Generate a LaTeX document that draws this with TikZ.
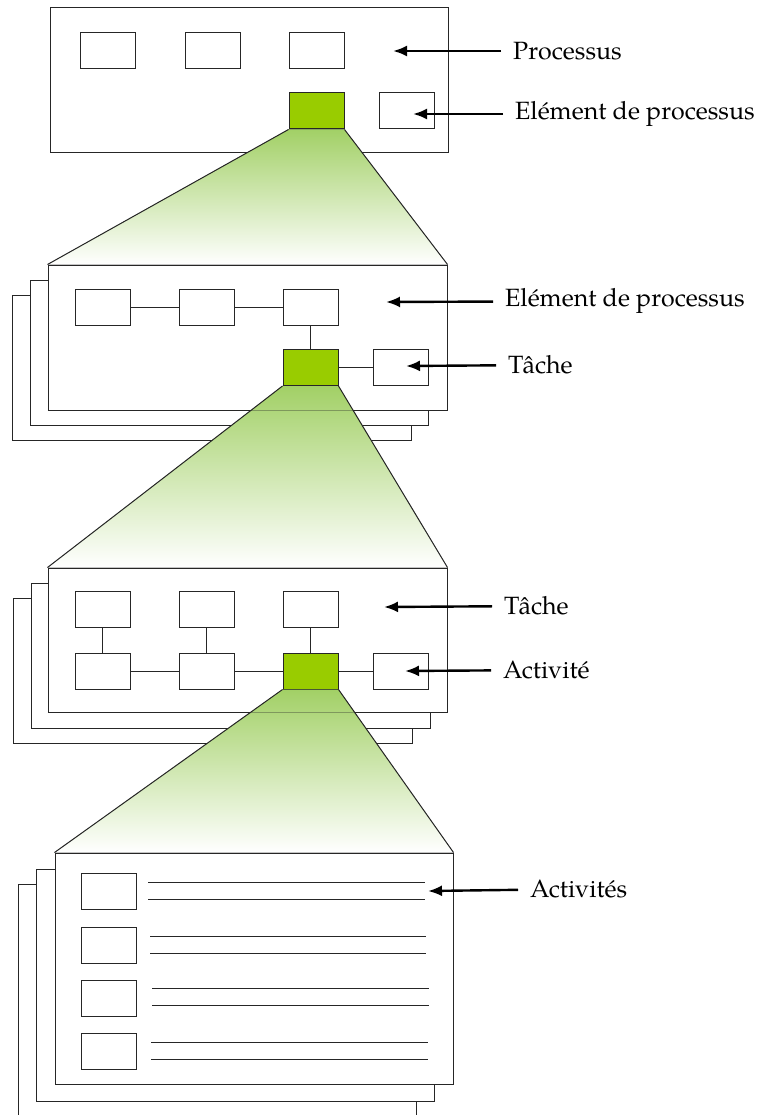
\documentclass[tikz,border=0pt]{standalone}
\usepackage{fontspec}
\setmainfont{TeX Gyre Pagella}
\usetikzlibrary{arrows.meta}
\definecolor{leafgreen}{HTML}{99CC00}
\definecolor{fantop}{RGB}{162,208,102}
\definecolor{fanmid}{RGB}{218,236,196}
\tikzset{sheet/.style={draw=black!85, line width=1pt, fill=white, inner sep=0pt}}

\begin{document}
\begin{tikzpicture}[x=1pt, y=-1pt]
\tikzstyle{box} = [rectangle, draw=black!85, line width=1pt, fill=white, minimum width=55pt, minimum height=36pt, inner sep=0pt]
\tikzstyle{hotbox} = [box, fill=leafgreen]
\tikzstyle{lbl} = [anchor=west, inner xsep=12pt, font=\fontsize{25}{30}\selectfont]
\tikzstyle{pointer} = [line width=2.4pt, -{Latex[length=14pt, width=11pt]}]
\tikzstyle{link} = [draw=black!85, line width=1pt]
\tikzstyle{fan} = [top color=fantop, middle color=fanmid, bottom color=white]

\useasboundingbox (0,0) rectangle (761,1115);

% level 1
\node (sheetA) [sheet, minimum width=398pt, minimum height=145pt] at (249,80.5) {};
\node (a1) [box] at (108,50.5) {};
\node (b1) [box] at (212.5,50.5) {};
\node (c1) [box] at (316.5,50.5) {};
\node (g1) [hotbox] at (316.5,111) {};
\node (d1) [box] at (406.5,111) {};

% level 2
\node (sheetB3) [sheet, minimum width=399pt, minimum height=145pt] at (211.5,367.5) {};
\node (sheetB2) [sheet, minimum width=398pt, minimum height=145pt] at (229,352.5) {};
\node (sheetB) [sheet, minimum width=399pt, minimum height=145pt] at (247.5,337.5) {};
\node (a2) [box] at (102.5,307) {};
\node (b2) [box] at (206.5,307) {};
\node (c2) [box] at (310.5,307) {};
\node (g2) [hotbox] at (310.5,367.5) {};
\node (d2) [box] at (401,367.5) {};
\draw [link] (a2) -- (b2);
\draw [link] (b2) -- (c2);
\draw [link] (c2) -- (g2);
\draw [link] (g2) -- (d2);

% fan 1
\fill [fan] (g1.south west) -- (g1.south east) -- (sheetB.north east) -- (sheetB.north west) -- cycle;
\draw [link] (g1.south west) -- (sheetB.north west);
\draw [link] (g1.south east) -- (sheetB.north east);

% level 3
\node (sheetC3) [sheet, minimum width=399pt, minimum height=145pt] at (212.5,670.5) {};
\node (sheetC2) [sheet, minimum width=399pt, minimum height=145pt] at (230.5,655.5) {};
\node (sheetC) [sheet, minimum width=399pt, minimum height=144pt] at (247.5,640) {};
\node (a3) [box] at (102.5,609) {};
\node (b3) [box] at (206.5,609) {};
\node (c3) [box] at (310.5,609) {};
\node (e3) [box] at (102.5,671) {};
\node (f3) [box] at (206.5,671) {};
\node (g3) [hotbox] at (310.5,671) {};
\node (d3) [box] at (401,671) {};
\draw [link] (a3) -- (e3);
\draw [link] (b3) -- (f3);
\draw [link] (c3) -- (g3);
\draw [link] (e3) -- (f3);
\draw [link] (f3) -- (g3);
\draw [link] (g3) -- (d3);

% fan 2
\fill [fan] (g2.south west) -- (g2.south east) -- (sheetC.north east) -- (sheetC.north west) -- cycle;
\draw [link] (g2.south west) -- (sheetC.north west);
\draw [link] (g2.south east) -- (sheetC.north east);
\draw [link, draw opacity=0.35] (sheetB.south west) -- (sheetB.south east);

% level 4
\node (sheetD3) [sheet, minimum width=398pt, minimum height=232pt] at (217,1000) {};
\node (sheetD2) [sheet, minimum width=398pt, minimum height=232pt] at (235,985) {};
\node (sheetD) [sheet, minimum width=398pt, minimum height=231pt] at (254,968.5) {};
\node (r1) [box] at (108.5,891) {};
\node (r2) [box] at (108.5,945) {};
\node (r3) [box] at (108.5,998) {};
\node (r4) [box] at (108.5,1051) {};
\foreach \ya/\xa/\xb in {882/148/425, 899/148/425, 936/150/426, 953/150/426, 988/152/429, 1005/152/429, 1042/151/428, 1059/151/428}
  \draw [link] (\xa,\ya) -- (\xb,\ya);

% fan 3
\fill [fan] (g3.south west) -- (g3.south east) -- (sheetD.north east) -- (sheetD.north west) -- cycle;
\draw [link] (g3.south west) -- (sheetD.north west);
\draw [link] (g3.south east) -- (sheetD.north east);
\draw [link, draw opacity=0.35] (sheetC.south west) -- (sheetC.south east);

% labels
\node (procLbl) [lbl] at (501,51) {Processus};
\node (eltLbl) [lbl] at (503,114) {Elément de processus};
\node (eltLblB) [lbl] at (493,301) {Elément de processus};
\node (taskLbl) [lbl] at (496,365) {Tâche};
\node (taskLblC) [lbl] at (492,606) {Tâche};
\node (actLbl) [lbl] at (491,670) {Activité};
\node (actsLbl) [lbl] at (518,889) {Activités};

\coordinate (procTip) at (393,51);
\coordinate (eltTip) at (413,114);
\coordinate (eltTipB) at (386,302);
\coordinate (taskTip) at (406,366);
\coordinate (taskTipC) at (384,607);
\coordinate (actTip) at (405,671);
\coordinate (actsTip) at (428,891);

\draw [pointer] (procLbl) -- (procTip);
\draw [pointer] (eltLbl) -- (eltTip);
\draw [pointer] (eltLblB) -- (eltTipB);
\draw [pointer] (taskLbl) -- (taskTip);
\draw [pointer] (taskLblC) -- (taskTipC);
\draw [pointer] (actLbl) -- (actTip);
\draw [pointer] (actsLbl) -- (actsTip);

\end{tikzpicture}
\end{document}
